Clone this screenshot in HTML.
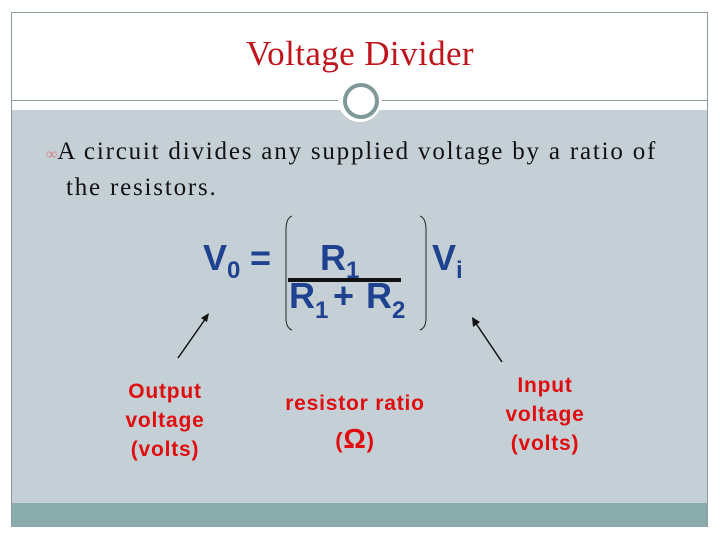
<!DOCTYPE html>
<html><head><style>
body{margin:0;width:720px;height:540px;background:#fff;position:relative;overflow:hidden;font-family:"Liberation Sans",sans-serif}
.a{position:absolute}
.l{font-size:21px;font-weight:bold;letter-spacing:0.8px;color:#e00d10;text-align:center;line-height:29px}
</style></head><body>
<div class="a" style="left:11px;top:12px;width:697px;height:515px;border:1px solid #8a9aa0;box-sizing:border-box;background:#fff"></div>
<div class="a" style="left:12px;top:110px;width:695px;height:393px;background:#c5d0d6"></div>
<div class="a" style="left:12px;top:503px;width:695px;height:24px;background:#89abab"></div>
<div class="a" style="left:12px;top:100px;width:695px;height:1px;background:#8a9aa0"></div>
<div class="a" style="left:338px;top:78px;width:44px;height:44px;border-radius:50%;background:#fff"></div>
<div class="a" style="left:343px;top:83px;width:28px;height:28px;border-radius:50%;border:4px solid #7f9898;background:#fff"></div>
<div class="a" style="left:0;width:720px;top:34px;text-align:center;font-family:'Liberation Serif',serif;font-size:35px;letter-spacing:0.4px;color:#c0141c">Voltage Divider</div>
<div class="a" style="left:46px;top:135px;font-family:'Liberation Serif',serif;font-size:25px;letter-spacing:1.8px;color:#111;line-height:33px;white-space:nowrap">
<span style="color:#d08080;font-size:16px;letter-spacing:0">&#8734;</span>A circuit divides any supplied voltage by a ratio of<br><span style="padding-left:20px">the resistors.</span></div>
<svg class="a" style="left:0;top:0" width="720" height="540">
<g fill="#1f4290" font-family="Liberation Sans" font-weight="bold" font-size="36">
<text x="203" y="270">V</text><text x="227" y="278" font-size="24">0</text><text x="250" y="270">=</text>
<text x="320" y="270">R</text><text x="346" y="278" font-size="24">1</text>
<text x="289" y="308">R</text><text x="315" y="318" font-size="24">1</text><text x="333" y="308">+</text><text x="366" y="308">R</text><text x="392" y="318" font-size="24">2</text>
<text x="432" y="270">V</text><text x="456" y="278" font-size="24">i</text>
</g>
<rect x="288" y="278" width="113" height="4" fill="#111"/>
<path d="M292 216 Q286 218 286 230 V318 Q286 328 292 330" fill="none" stroke="#222" stroke-width="1"/>
<path d="M420 216 Q426 218 426 230 V318 Q426 328 420 330" fill="none" stroke="#222" stroke-width="1"/>
<line x1="178" y1="358" x2="206" y2="318" stroke="#111" stroke-width="1.5"/>
<polygon points="209,313 201,318 207,322" fill="#111"/>
<line x1="502" y1="362" x2="475" y2="322" stroke="#111" stroke-width="1.5"/>
<polygon points="472,317 473,327 480,322" fill="#111"/>
</svg>
<div class="a l" style="left:105px;top:377px;width:120px">Output<br>voltage<br>(volts)</div>
<div class="a l" style="left:270px;top:389px;width:170px">resistor ratio</div>
<div class="a l" style="left:270px;top:424px;width:170px;font-size:22px">(<span style="font-size:28px">Ω</span>)</div>
<div class="a l" style="left:485px;top:371px;width:120px">Input<br>voltage<br>(volts)</div>
</body></html>
